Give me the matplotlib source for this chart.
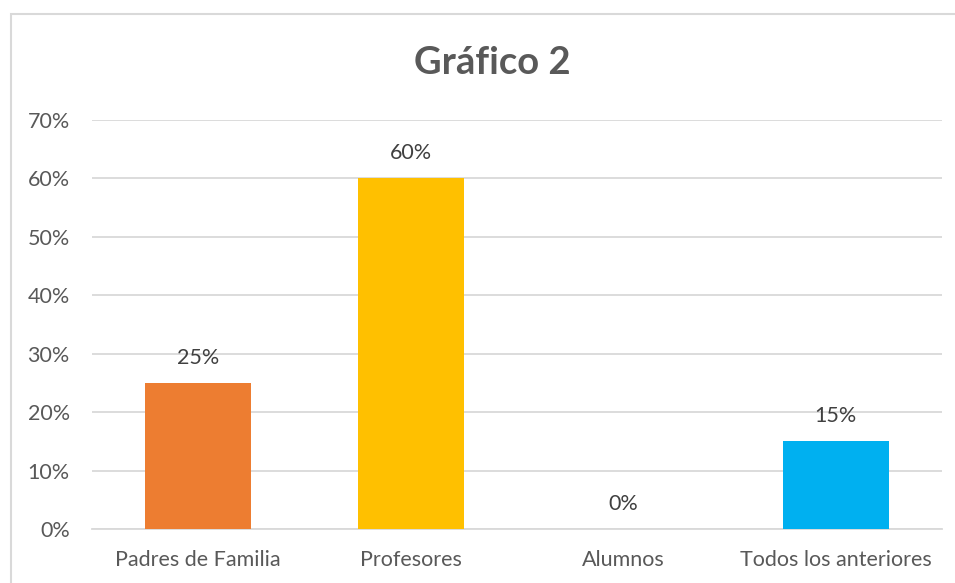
import matplotlib

matplotlib.use("Agg")
import matplotlib.pyplot as plt
from matplotlib.patches import Rectangle
from matplotlib.ticker import PercentFormatter

# ── datos ──────────────────────────────────────────────
categorias = ["Padres de Familia", "Profesores", "Alumnos", "Todos los anteriores"]
valores = [0.25, 0.60, 0.0, 0.15]
colores = ["#ED7D31", "#FFC000", "#A5A5A5", "#00B0F0"]
etiquetas = ["25%", "60%", "0%", "15%"]
y_ticks = [0, 0.1, 0.2, 0.3, 0.4, 0.5, 0.6, 0.7]

TEXTO = "#595959"
REJILLA = "#D9D9D9"

plt.rcParams["font.family"] = ["Lato", "DejaVu Sans"]

fig = plt.figure(figsize=(9.55, 5.83), dpi=100)
ax = fig.add_axes([92 / 955, 1 - 529 / 583, 850 / 955, 409 / 583])

# marco del gráfico (sólo asoman los bordes superior e izquierdo)
fig.patches.append(
    Rectangle((11 / 955, -0.1), 1.2, 1 - 14 / 583 + 0.1, transform=fig.transFigure,
              fill=False, edgecolor="#D9D9D9", linewidth=1.5)
)

x = range(len(categorias))
barras = ax.bar(x, valores, width=0.5, color=colores, zorder=3)

for xi, v, t in zip(x, valores, etiquetas):
    ax.annotate(t, (xi, v), xytext=(0, 11), textcoords="offset points",
                ha="center", va="bottom", fontsize=15.5, color="#404040")

ax.set_xlim(-0.5, len(categorias) - 0.5)
ax.set_ylim(0, 0.7)
ax.set_yticks(y_ticks)
ax.yaxis.set_major_formatter(PercentFormatter(1.0, decimals=0))
ax.set_xticks(list(x))
ax.set_xticklabels(categorias)
ax.tick_params(axis="both", length=0, labelsize=15.5, labelcolor=TEXTO)
ax.tick_params(axis="y", pad=16)
ax.tick_params(axis="x", pad=15)

ax.grid(axis="y", color=REJILLA, linewidth=1.3, zorder=0)
for lado in ["top", "right", "left"]:
    ax.spines[lado].set_visible(False)
ax.spines["bottom"].set_color(REJILLA)
ax.spines["bottom"].set_linewidth(1.3)

fig.text(492 / 955, 1 - 63 / 583, "Gráfico 2", ha="center", va="center",
         fontsize=27.5, fontweight="bold", color=TEXTO)

fig.savefig("out.png", dpi=100)
